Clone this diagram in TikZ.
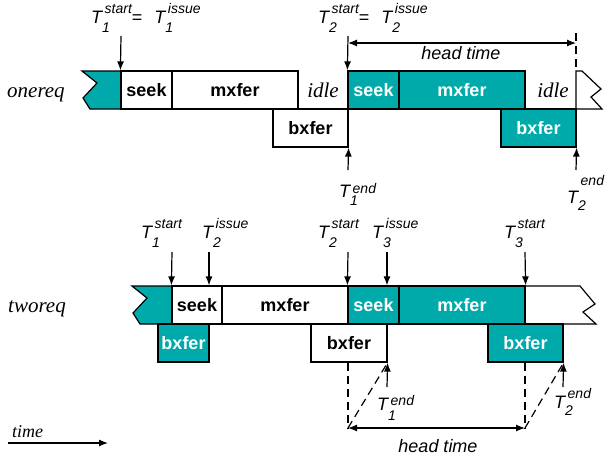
\documentclass[tikz,border=0pt]{standalone}
\usepackage{fontspec}
\setmainfont{Liberation Sans}
\newfontfamily\serifit{Liberation Serif}
\usetikzlibrary{arrows.meta}
\definecolor{tealc}{RGB}{0,170,170}
\newcommand{\scr}{\fontsize{14}{14}\selectfont\itshape}
\newcommand{\Tl}[4]{{\fontsize{18}{20}\selectfont\itshape T}\makebox[0pt][l]{\raisebox{-#4pt}{\scr #1}}\hspace{2.5pt}\raisebox{#3pt}{\scr #2}}
\begin{document}
\begin{tikzpicture}[x=1pt,y=-1pt,
  box/.style={draw,line width=1.2pt,minimum height=38pt,inner sep=0pt,font=\fontsize{18}{20}\selectfont\bfseries},
  wbox/.style={box,fill=white},
  tbox/.style={box,fill=tealc,text=white},
  shp/.style={draw,line width=1.2pt,line join=miter},
  arr/.style={line width=1.2pt,-{Latex[length=9pt,width=7pt]}},
  dbl/.style={line width=1.2pt,{Latex[length=9pt,width=7pt]}-{Latex[length=9pt,width=7pt]}},
  dsh/.style={line width=1.2pt,dash pattern=on 8pt off 5pt},
  lab/.style={inner sep=0pt,anchor=base west,font=\fontsize{18}{20}\selectfont},
  rowlab/.style={inner sep=0pt,anchor=base west,font=\serifit\itshape\fontsize{21}{24}\selectfont},
  idlelab/.style={inner sep=0pt,font=\serifit\itshape\fontsize{21}{24}\selectfont},
  htlab/.style={inner sep=0pt,anchor=base,font=\itshape\fontsize{18}{20}\selectfont}]
\useasboundingbox (0,0) rectangle (605,458);

% ---------- onereq ----------
\node[rowlab] (r1) at (7,97) {onereq};
\draw[shp,fill=tealc] (82,71) -- (121,71) -- (121,109) -- (90,109) -- (83,98) -- (97,83) -- cycle;
\draw[shp,fill=white] (576,71) -- (582,71) -- (601,89) -- (591,97) -- (602,109) -- (576,109) -- cycle;
\node[wbox,minimum width=75pt] (bx1) at (310.5,128) {bxfer};
\node[tbox,minimum width=75pt] (bx2) at (538.5,128) {bxfer};
\node[wbox,minimum width=51pt] (sk1) at (146.5,90) {seek};
\node[wbox,minimum width=126pt] (mx1) at (235,90) {mxfer};
\node[tbox,minimum width=51pt] (sk2) at (373.5,90) {seek};
\node[tbox,minimum width=126pt] (mx2) at (462,90) {mxfer};
\node[idlelab] (id1) at (323,90) {idle};
\node[idlelab] (id2) at (553,90) {idle};

\node[lab] (L1) at (91,23) {\Tl{1}{start}{10}{9}=\hspace{12pt}\Tl{1}{issue}{10}{9}};
\node[lab] (L2) at (318,23) {\Tl{2}{start}{10}{9}=\hspace{12pt}\Tl{2}{issue}{10}{9}};
\coordinate (a1) at (121,36);
\coordinate (a2) at (348,36);
\draw[arr] (a1) -- (sk1.north west);
\draw[arr] (a2) -- (sk2.north west);
\coordinate (h1) at (348,43);
\coordinate (h2) at (576,43);
\coordinate (d1) at (576,33);
\draw[dsh] (d1) -- (d1 |- sk2.north);
\draw[dbl] (h1) -- (h2);
\node[htlab] (ht1) at (461,59) {head time};

\coordinate (e1) at (348,170);
\coordinate (e2) at (576,170);
\draw[arr] (e1) -- (bx1.south east);
\draw[arr] (e2) -- (bx2.south east);
\node[lab] (E1) at (339,197) {\Tl{1}{end}{4}{8}};
\node[lab] (E2) at (567,203) {\Tl{2}{end}{18}{7}};

% ---------- tworeq ----------
\node[rowlab] (r2) at (8,312) {tworeq};
\draw[shp,fill=tealc] (132,286) -- (172,286) -- (172,324) -- (140,324) -- (133,313) -- (147,298) -- cycle;
\draw[shp,fill=white] (525,286) -- (580,286) -- (595,304) -- (583,312) -- (596,324) -- (525,324) -- cycle;
\node[tbox,minimum width=51pt] (bx3) at (183.5,343) {bxfer};
\node[wbox,minimum width=76pt] (bx4) at (349,343) {bxfer};
\node[tbox,minimum width=75pt] (bx5) at (525.5,343) {bxfer};
\node[wbox,minimum width=50pt] (sk3) at (197,305) {seek};
\node[wbox,minimum width=126pt] (mx3) at (285,305) {mxfer};
\node[tbox,minimum width=51pt] (sk4) at (373.5,305) {seek};
\node[tbox,minimum width=126pt] (mx4) at (462,305) {mxfer};

\node[lab] (M1) at (141,238) {\Tl{1}{start}{10}{9}};
\node[lab] (M2) at (202,238) {\Tl{2}{issue}{10}{9}};
\node[lab] (M3) at (318,238) {\Tl{2}{start}{10}{9}};
\node[lab] (M4) at (372,238) {\Tl{3}{issue}{10}{9}};
\node[lab] (M5) at (504,238) {\Tl{3}{start}{10}{9}};
\coordinate (b1) at (172,252);
\coordinate (b2) at (209,252);
\coordinate (b3) at (348,252);
\coordinate (b4) at (387,252);
\coordinate (b5) at (525,252);
\draw[arr] (b1) -- (sk3.north west);
\draw[arr] (b2) -- (b2 |- sk3.north);
\draw[arr] (b3) -- (sk4.north west);
\draw[arr] (b4) -- (b4 |- sk4.north);
\draw[arr] (b5) -- (mx4.north east);

\coordinate (g1) at (348,428);
\coordinate (g2) at (525,428);
\draw[dsh] (g1 |- bx4.south) -- (g1);
\draw[dsh] (g2 |- bx5.south) -- (g2);
\draw[dsh] (g1) -- (bx4.south east);
\draw[dsh] (g2) -- (bx5.south east);
\draw[dbl] (g1) -- (g2);
\node[htlab] (ht2) at (438,452) {head time};

\coordinate (e3) at (387,387);
\coordinate (e4) at (563,387);
\draw[arr] (e3) -- (bx4.south east);
\draw[arr] (e4) -- (bx5.south east);
\node[lab] (E3) at (377,410) {\Tl{1}{end}{5}{10}};
\node[lab] (E4) at (554,408) {\Tl{2}{end}{10}{7}};

% ---------- time ----------
\node[inner sep=0pt,anchor=base west,font=\serifit\itshape\fontsize{18}{20}\selectfont] (tm) at (12,437) {time};
\coordinate (t1) at (8,443);
\coordinate (t2) at (108,443);
\draw[arr] (t1) -- (t2);
\end{tikzpicture}
\end{document}
